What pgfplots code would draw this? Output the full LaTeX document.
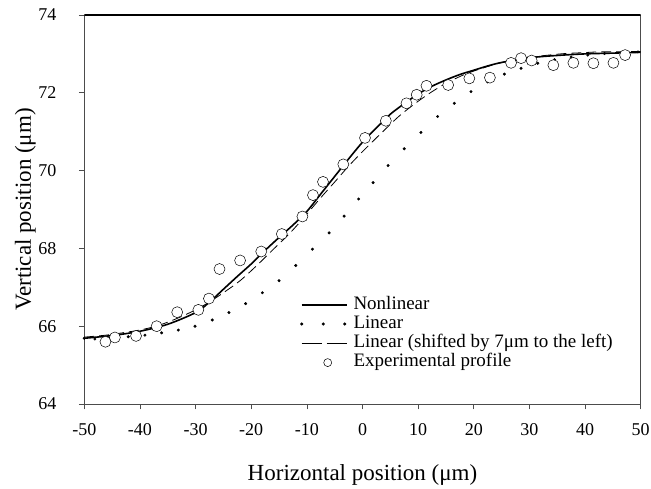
\documentclass[border=0pt]{standalone}
\usepackage{fontspec}
\setmainfont{Liberation Serif}
\usepackage{pgfplots}
\pgfplotsset{compat=1.18}
\begin{document}
\begin{tikzpicture}
\path[use as bounding box] (-84.3pt,-85pt) rectangle (566.7pt,404pt);
\begin{axis}[
  scale only axis, width=556.4pt, height=389pt,
  xmin=-50, xmax=50, ymin=64, ymax=74,
  xtick={-50,-40,...,50}, ytick={64,66,...,74},
  xtick pos=lower, ytick pos=left,
  tick align=outside, major tick length=5.5pt,
  tick style={gray!60!black, line width=0.6pt},
  axis line style={gray!60!black, line width=0.7pt},
  /pgf/number format/assume math mode=true,
  ticklabel style={font=\fontsize{18}{21}\selectfont},
  xticklabel style={yshift=-11pt},
  yticklabel style={xshift=-19pt},
  label style={font=\fontsize{23}{27}\selectfont},
  xlabel={Horizontal position (μm)},
  ylabel={Vertical position (μm)},
  xlabel style={at={(axis description cs:0.5,-0.197)}, anchor=base},
  ylabel style={at={(axis description cs:-0.106,0.5)}, anchor=center},
  legend cell align=left,
  legend style={draw=none, fill=none, at={(axis description cs:0.3877,0.278)}, anchor=north west,
    font=\fontsize{19}{19}\selectfont, inner sep=0pt, row sep=2pt, column sep=6pt,
    nodes={inner sep=0pt, text height=13pt, text depth=4.3pt}},
]
\addplot[black, line width=1.6pt, smooth,
  legend image code/.code={\draw[black, line width=1.6pt] (0pt,0pt) -- (45pt,0pt);}]
coordinates {
(-50,65.69) (-45,65.76) (-40,65.87) (-35,66.05) (-30,66.35) (-27.5,66.62) (-25,66.95)
(-22.5,67.28) (-20,67.6) (-17.5,67.95) (-15,68.28) (-12.5,68.6) (-10,68.95) (-7.5,69.4)
(-5,69.85) (-2.5,70.3) (0,70.73) (2.5,71.1) (5,71.45) (7.5,71.72) (10,71.97) (12.5,72.17)
(15,72.33) (17.5,72.47) (20,72.58) (22.5,72.69) (25,72.78) (30,72.9) (35,72.96) (40,73.0)
(45,73.02) (50,73.04)};
\addlegendentry{Nonlinear}
\addplot[only marks, mark=*, mark size=1.3pt, black,
  legend image code/.code={\fill[black] (0pt,0pt) circle (1.3pt); \fill[black] (21.5pt,0pt) circle (1.3pt); \fill[black] (43pt,0pt) circle (1.3pt);}]
coordinates {
(-50,65.69) (-48.1,65.67) (-45.1,65.70) (-42.1,65.73) (-39.1,65.77) (-36.1,65.83) (-33.1,65.90)
(-30.1,66.00) (-27.0,66.16) (-24.0,66.35) (-21.0,66.58) (-18.0,66.86) (-15.0,67.17) (-12.0,67.56)
(-9.0,67.98) (-6.0,68.40) (-3.3,68.83) (-0.7,69.27) (1.9,69.69) (4.6,70.13) (7.5,70.56)
(10.5,70.98) (13.5,71.39) (16.5,71.73) (19.5,72.03) (22.5,72.28) (25.5,72.48) (28.5,72.63)
(31.5,72.76) (34.5,72.85) (37.5,72.92) (40.5,72.97) (43.5,73.01) (46.5,73.03) (49.5,73.05)};
\addlegendentry{Linear}
\addplot[black, line width=0.8pt, smooth, dash pattern=on 10pt off 5pt,
  legend image code/.code={\draw[black, line width=0.8pt, dash pattern=on 20pt off 5pt] (0pt,0pt) -- (45pt,0pt);}]
coordinates {
(-50,65.72) (-49.1,65.73) (-46.1,65.77) (-43.1,65.83) (-40.1,65.90) (-37.1,66.00) (-34,66.16)
(-31,66.35) (-28,66.58) (-25,66.86) (-22,67.17) (-19,67.56) (-16,67.98) (-13,68.40)
(-10.3,68.83) (-7.7,69.27) (-5.1,69.69) (-2.4,70.13) (0.5,70.56) (3.5,70.98) (6.5,71.39)
(9.5,71.73) (12.5,72.03) (15.5,72.28) (18.5,72.48) (21.5,72.63) (24.5,72.76) (27.5,72.85)
(30.5,72.92) (33.5,72.97) (36.5,73.01) (39.5,73.03) (42.5,73.05) (50,73.06)};
\addlegendentry{Linear (shifted by 7μm to the left)}
\addplot[only marks, mark=*, mark size=5.5pt, mark options={fill=white, draw=black, line width=0.5pt},
  legend image code/.code={\path[draw=none] (0pt,0pt) -- (45pt,0pt); \draw[black, fill=white, line width=0.5pt] (26pt,0pt) circle (4pt);}]
coordinates {
(-46.2,65.60) (-44.5,65.71) (-40.7,65.75) (-37.0,66.00) (-33.3,66.36) (-29.5,66.42) (-27.6,66.71)
(-25.7,67.47) (-22.0,67.69) (-18.2,67.92) (-14.5,68.37) (-10.8,68.82) (-8.9,69.37) (-7.1,69.71)
(-3.45,70.16) (0.45,70.84) (4.2,71.28) (7.9,71.73) (9.74,71.95) (11.5,72.18) (15.4,72.20)
(19.2,72.37) (22.9,72.39) (26.7,72.77) (28.5,72.89) (30.4,72.83) (34.3,72.71) (37.9,72.77)
(41.5,72.76) (45.1,72.77) (47.2,72.97)};
\addlegendentry{Experimental profile}
\draw[black, line width=1.4pt] (rel axis cs:0,1) -- (rel axis cs:1,1);
\end{axis}
\end{tikzpicture}
\end{document}
